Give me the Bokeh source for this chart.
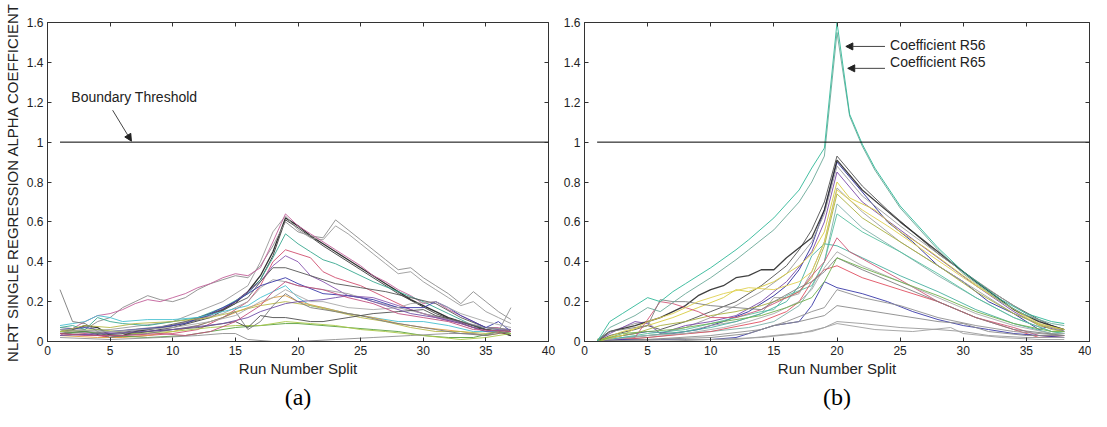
from bokeh.plotting import figure
from bokeh.models import LinearAxis, FixedTicker, Title, Arrow, NormalHead, Range1d
from bokeh.core.properties import value
from bokeh.layouts import row
from bokeh.embed import file_html
from bokeh.resources import INLINE

# ---------------- data ----------------
X_TICKS = [0, 5, 10, 15, 20, 25, 30, 35, 40]
Y_TICKS = [0, 0.2, 0.4, 0.6, 0.8, 1.0, 1.2, 1.4, 1.6]
Y_LABELS = ["0", "0.2", "0.4", "0.6", "0.8", "1", "1.2", "1.4", "1.6"]
THRESHOLD_X = [1, 40]
THRESHOLD_Y = [1.0, 1.0]

# Panel (a) series: (run split, alpha)
A01 = [(1,0.05),(2,0.06),(3,0.08),(4,0.07),(5,0.03),(6,0.03),(7,0.05),(8,0.06),(10,0.08),(12,0.11),(14,0.16),(15,0.2),(16,0.25),(17,0.33),(18,0.45),(19,0.62),(20,0.58),(21,0.53),(22,0.49),(23,0.45),(24,0.41),(25,0.37),(26,0.33),(27,0.29),(28,0.25),(29,0.21),(30,0.18),(31,0.15),(32,0.12),(33,0.1),(34,0.08),(35,0.06),(36,0.05),(37,0.03)]
A02 = [(1,0.04),(3,0.05),(5,0.02),(7,0.04),(10,0.07),(13,0.12),(15,0.19),(17,0.31),(18,0.43),(19,0.61),(20,0.57),(22,0.48),(25,0.36),(28,0.24),(31,0.14),(34,0.07),(36,0.05),(37,0.03)]
A03 = [(1,0.07),(3,0.06),(4,0.1),(5,0.12),(6,0.17),(7,0.2),(8,0.23),(9,0.21),(10,0.2),(11,0.22),(12,0.26),(13,0.29),(14,0.31),(15,0.33),(16,0.32),(17,0.38),(18,0.48),(19,0.6),(20,0.55),(21,0.53),(22,0.52),(23,0.61),(24,0.56),(25,0.51),(26,0.46),(27,0.41),(28,0.36),(29,0.37),(30,0.32),(31,0.28),(32,0.24),(33,0.19),(34,0.25),(35,0.2),(36,0.15),(37,0.11)]
A04 = [(1,0.05),(5,0.06),(10,0.1),(14,0.2),(16,0.28),(17,0.4),(18,0.55),(19,0.63),(20,0.56),(21,0.52),(22,0.51),(23,0.58),(24,0.54),(25,0.49),(26,0.44),(27,0.39),(28,0.34),(29,0.35),(30,0.3),(31,0.26),(32,0.22),(33,0.18),(34,0.2),(35,0.15),(36,0.12),(37,0.09)]
A05 = [(1,0.03),(3,0.1),(4,0.13),(5,0.14),(6,0.16),(7,0.19),(8,0.21),(9,0.2),(10,0.22),(11,0.24),(12,0.27),(13,0.29),(14,0.32),(15,0.34),(16,0.33),(17,0.37),(18,0.5),(19,0.64),(20,0.58),(21,0.54),(22,0.5),(23,0.46),(24,0.42),(25,0.38),(26,0.33),(27,0.3),(28,0.26),(29,0.23),(30,0.19),(31,0.2),(32,0.16),(33,0.13),(34,0.1),(35,0.07),(36,0.07),(37,0.05)]
A06 = [(1,0.07),(2,0.08),(3,0.06),(4,0.12),(5,0.1),(6,0.09),(8,0.08),(10,0.1),(12,0.12),(14,0.17),(16,0.24),(17,0.31),(18,0.42),(19,0.54),(20,0.49),(21,0.45),(22,0.41),(23,0.39),(24,0.36),(26,0.3),(28,0.25),(30,0.2),(32,0.14),(34,0.08),(36,0.06),(37,0.05)]
A07 = [(1,0.03),(3,0.04),(5,0.02),(8,0.03),(10,0.04),(12,0.06),(14,0.12),(16,0.2),(17,0.28),(18,0.4),(19,0.46),(20,0.44),(21,0.42),(22,0.35),(23,0.32),(25,0.28),(27,0.22),(29,0.16),(31,0.12),(33,0.09),(35,0.05),(37,0.04)]
A08 = [(1,0.05),(4,0.04),(7,0.06),(10,0.08),(13,0.13),(15,0.2),(17,0.3),(18,0.38),(19,0.43),(20,0.4),(21,0.33),(22,0.3),(24,0.23),(26,0.22),(28,0.18),(30,0.14),(32,0.11),(35,0.07),(37,0.05)]
A09 = [(1,0.06),(3,0.05),(5,0.04),(8,0.06),(11,0.1),(14,0.16),(16,0.22),(17,0.3),(18,0.37),(19,0.37),(20,0.35),(21,0.33),(22,0.31),(23,0.29),(25,0.27),(27,0.25),(29,0.22),(31,0.19),(33,0.12),(35,0.07),(37,0.06)]
A10 = [(1,0.04),(5,0.05),(10,0.08),(14,0.14),(16,0.2),(17,0.27),(18,0.31),(19,0.3),(20,0.28),(22,0.26),(24,0.24),(26,0.2),(28,0.17),(30,0.14),(33,0.1),(35,0.07),(37,0.06)]
A11 = [(1,0.06),(3,0.07),(5,0.05),(7,0.06),(9,0.07),(11,0.09),(13,0.14),(15,0.2),(16,0.24),(17,0.28),(18,0.3),(19,0.32),(20,0.29),(22,0.24),(24,0.23),(26,0.21),(28,0.17),(30,0.17),(31,0.2),(32,0.17),(33,0.13),(35,0.07),(36,0.1),(37,0.05)]
A12 = [(1,0.08),(2,0.09),(3,0.1),(4,0.13),(5,0.12),(6,0.1),(8,0.11),(10,0.11),(12,0.12),(14,0.15),(16,0.18),(17,0.22),(18,0.25),(19,0.28),(20,0.22),(21,0.18),(22,0.17),(24,0.14),(26,0.12),(28,0.1),(30,0.1),(32,0.08),(34,0.05),(36,0.05),(37,0.04)]
A13 = [(1,0.03),(4,0.02),(6,0.02),(8,0.03),(10,0.05),(12,0.08),(14,0.12),(16,0.17),(17,0.19),(18,0.22),(19,0.23),(20,0.2),(22,0.17),(24,0.14),(26,0.12),(28,0.09),(30,0.07),(33,0.05),(35,0.03),(37,0.05)]
A14 = [(1,0.05),(3,0.08),(5,0.07),(7,0.09),(10,0.1),(13,0.12),(15,0.15),(17,0.18),(19,0.2),(20,0.19),(21,0.18),(23,0.15),(25,0.12),(27,0.1),(29,0.07),(31,0.05),(33,0.05),(35,0.04),(37,0.06)]
A15 = [(1,0.04),(3,0.05),(5,0.03),(8,0.02),(11,0.03),(13,0.05),(15,0.07),(17,0.08),(19,0.09),(20,0.09),(22,0.08),(24,0.07),(26,0.06),(28,0.05),(30,0.03),(32,0.02),(34,0.02),(36,0.05),(37,0.04)]
A16 = [(1,0.05),(4,0.06),(7,0.04),(10,0.05),(13,0.07),(15,0.08),(17,0.08),(19,0.1),(21,0.09),(23,0.08),(25,0.06),(27,0.05),(30,0.03),(33,0.01),(35,0.02),(37,0.04)]
A17 = [(1,0.02),(5,0.01),(9,0.02),(12,0.03),(14,0.04),(15,0.04),(16,0.01),(18,0.0),(20,0.0),(23,0.01),(26,0.02),(29,0.03),(32,0.04),(34,0.04),(35,0.03),(36,0.05),(37,0.17)]
A18 = [(1,0.26),(2,0.1),(3,0.09),(4,0.05),(5,0.02),(6,0.03),(8,0.04),(10,0.06),(12,0.08),(14,0.12),(15,0.15),(16,0.06),(17,0.1),(18,0.18),(19,0.24),(20,0.2),(21,0.17),(23,0.15),(25,0.13),(27,0.1),(29,0.08),(31,0.06),(33,0.04),(35,0.03),(37,0.05)]
A19 = [(1,0.04),(4,0.03),(8,0.05),(12,0.07),(15,0.1),(16,0.07),(17,0.13),(18,0.12),(19,0.12),(20,0.11),(21,0.1),(22,0.1),(24,0.12),(26,0.14),(28,0.15),(30,0.16),(31,0.13),(33,0.1),(35,0.06),(37,0.05)]
A20 = [(1,0.03),(5,0.04),(10,0.06),(14,0.09),(16,0.12),(17,0.15),(18,0.17),(19,0.19),(20,0.2),(22,0.21),(23,0.22),(24,0.23),(25,0.22),(27,0.18),(29,0.14),(31,0.12),(33,0.09),(35,0.05),(37,0.06)]
A21 = [(1,0.06),(5,0.05),(10,0.07),(13,0.1),(15,0.13),(17,0.2),(18,0.22),(19,0.26),(20,0.23),(21,0.2),(22,0.2),(24,0.17),(26,0.16),(28,0.17),(29,0.19),(31,0.2),(33,0.14),(35,0.1),(37,0.07)]
A22 = [(1,0.04),(3,0.03),(6,0.03),(9,0.04),(11,0.03),(13,0.05),(15,0.1),(17,0.18),(18,0.25),(19,0.3),(20,0.28),(22,0.26),(24,0.22),(26,0.19),(28,0.14),(30,0.12),(32,0.1),(34,0.06),(37,0.05)]
A_SERIES = [A01, A02, A03, A04, A05, A06, A07, A08, A09, A10, A11,
            A12, A13, A14, A15, A16, A17, A18, A19, A20, A21, A22]
A_COLORS = ["#1a1a1a", "#3a3a3a", "#8c8c8c", "#9a9a9a", "#c2609a", "#3aa890",
            "#d05070", "#8a58b0", "#555555", "#a0a0a0", "#3a3aa8", "#48c0d0",
            "#e0a040", "#b8b848", "#5aa040", "#a8c848", "#909090", "#7a7a7a",
            "#505050", "#7050a8", "#a8a8a8", "#c05080"]

# Panel (b) series
B01 = [(1,0.0),(2,0.1),(3,0.14),(4,0.18),(5,0.22),(6,0.2),(7,0.25),(8,0.29),(10,0.37),(12,0.46),(13,0.51),(15,0.62),(16,0.69),(17,0.76),(18,0.87),(19,0.97),(20,1.6),(21,1.14),(22,0.99),(23,0.87),(25,0.68),(28,0.47),(30,0.35),(33,0.21),(35,0.14),(36,0.12),(37,0.1),(38,0.09)]
B02 = [(1,0.0),(2,0.07),(3,0.1),(4,0.13),(5,0.17),(6,0.15),(8,0.24),(10,0.32),(12,0.41),(13,0.46),(15,0.56),(16,0.63),(17,0.7),(18,0.8),(19,0.93),(20,1.55),(21,1.13),(22,0.98),(23,0.86),(25,0.67),(28,0.46),(30,0.34),(33,0.2),(35,0.13),(36,0.11),(37,0.09),(38,0.08)]
B03 = [(1,0.0),(2,0.03),(4,0.06),(5,0.08),(6,0.06),(8,0.1),(10,0.15),(12,0.2),(14,0.28),(16,0.38),(17,0.46),(18,0.56),(19,0.7),(20,0.93),(22,0.78),(24,0.66),(26,0.55),(28,0.44),(30,0.35),(32,0.26),(34,0.18),(36,0.11),(37,0.08),(38,0.06)]
B04 = [(1,0.0),(3,0.03),(5,0.05),(7,0.04),(9,0.06),(11,0.1),(13,0.15),(15,0.23),(16,0.28),(17,0.36),(18,0.48),(19,0.66),(20,0.9),(22,0.75),(24,0.6),(26,0.5),(28,0.38),(30,0.3),(32,0.2),(34,0.14),(36,0.06),(37,0.08),(38,0.05)]
B05 = [(1,0.01),(2,0.05),(4,0.09),(5,0.1),(6,0.04),(8,0.07),(10,0.12),(12,0.18),(14,0.25),(16,0.34),(18,0.5),(19,0.64),(20,0.88),(22,0.73),(25,0.58),(28,0.44),(30,0.35),(33,0.22),(35,0.14),(37,0.07),(38,0.06)]
B06 = [(1,0.0),(2,0.04),(4,0.1),(5,0.09),(6,0.04),(8,0.08),(10,0.1),(12,0.13),(14,0.2),(16,0.3),(18,0.45),(19,0.6),(20,0.85),(22,0.7),(25,0.56),(28,0.42),(31,0.28),(34,0.15),(36,0.08),(38,0.05)]
B07 = [(1,0.0),(3,0.05),(5,0.08),(7,0.12),(9,0.17),(11,0.22),(12,0.26),(13,0.25),(15,0.3),(17,0.38),(18,0.44),(19,0.55),(20,0.8),(21,0.72),(23,0.66),(25,0.55),(27,0.47),(30,0.33),(33,0.2),(36,0.08),(38,0.06)]
B08 = [(1,0.0),(5,0.03),(8,0.05),(10,0.08),(12,0.1),(14,0.14),(15,0.22),(16,0.22),(17,0.24),(18,0.35),(19,0.5),(20,0.77),(22,0.65),(25,0.5),(28,0.38),(31,0.26),(34,0.14),(36,0.09),(38,0.05)]
B09 = [(1,0.01),(4,0.04),(6,0.08),(8,0.1),(10,0.13),(12,0.15),(14,0.18),(16,0.22),(17,0.25),(18,0.32),(19,0.48),(20,0.74),(22,0.62),(25,0.5),(28,0.38),(31,0.25),(34,0.14),(37,0.06),(38,0.05)]
B10 = [(1,0.0),(5,0.02),(8,0.04),(10,0.05),(13,0.07),(15,0.1),(17,0.18),(18,0.27),(19,0.4),(20,0.69),(22,0.57),(25,0.45),(28,0.33),(31,0.22),(34,0.12),(37,0.05),(38,0.04)]
B11 = [(1,0.0),(5,0.04),(8,0.06),(10,0.09),(12,0.12),(14,0.15),(15,0.16),(16,0.23),(18,0.28),(19,0.4),(20,0.64),(22,0.55),(25,0.45),(28,0.34),(31,0.22),(34,0.12),(37,0.05),(38,0.04)]
B12 = [(1,0.0),(2,0.05),(4,0.08),(5,0.1),(6,0.12),(8,0.18),(9,0.23),(10,0.26),(11,0.28),(12,0.32),(13,0.33),(14,0.36),(15,0.36),(16,0.42),(17,0.47),(18,0.52),(19,0.66),(20,0.91),(22,0.76),(25,0.6),(28,0.45),(31,0.3),(34,0.16),(36,0.1),(38,0.06)]
B13 = [(1,0.0),(3,0.02),(5,0.03),(8,0.05),(10,0.07),(12,0.1),(14,0.14),(16,0.2),(17,0.28),(18,0.43),(19,0.49),(20,0.48),(22,0.42),(25,0.33),(28,0.25),(31,0.16),(34,0.09),(37,0.04),(38,0.04)]
B14 = [(1,0.0),(4,0.02),(6,0.2),(7,0.19),(9,0.15),(10,0.12),(12,0.12),(14,0.16),(16,0.22),(17,0.25),(18,0.33),(19,0.4),(20,0.52),(21,0.45),(23,0.38),(25,0.31),(28,0.2),(31,0.12),(34,0.07),(36,0.03),(38,0.03)]
B15 = [(1,0.0),(5,0.02),(10,0.05),(14,0.1),(16,0.15),(17,0.2),(18,0.3),(19,0.36),(20,0.38),(22,0.32),(25,0.26),(28,0.2),(31,0.12),(34,0.06),(36,0.02),(38,0.03)]
B16 = [(1,0.0),(5,0.03),(8,0.04),(11,0.07),(13,0.1),(15,0.14),(17,0.2),(18,0.26),(19,0.37),(20,0.45),(22,0.38),(25,0.3),(28,0.22),(31,0.14),(34,0.08),(37,0.04),(38,0.04)]
B17 = [(1,0.0),(3,0.01),(6,0.01),(10,0.01),(12,0.02),(14,0.06),(15,0.08),(16,0.09),(17,0.1),(18,0.18),(19,0.3),(20,0.27),(22,0.24),(24,0.2),(26,0.15),(28,0.11),(30,0.08),(32,0.06),(34,0.04),(36,0.03),(38,0.02)]
B18 = [(1,0.0),(5,0.01),(10,0.03),(14,0.06),(16,0.1),(18,0.15),(19,0.17),(20,0.26),(22,0.22),(25,0.18),(28,0.12),(31,0.08),(34,0.05),(38,0.03)]
B19 = [(1,0.0),(5,0.01),(10,0.02),(13,0.04),(15,0.08),(17,0.1),(19,0.13),(20,0.18),(22,0.16),(25,0.13),(28,0.1),(30,0.09),(32,0.05),(35,0.03),(38,0.03)]
B20 = [(1,0.0),(6,0.0),(10,0.01),(14,0.02),(17,0.04),(19,0.07),(20,0.1),(22,0.09),(25,0.07),(28,0.06),(30,0.05),(32,0.03),(35,0.02),(38,0.02)]
B21 = [(1,0.0),(8,0.01),(12,0.01),(15,0.03),(18,0.05),(20,0.09),(23,0.06),(26,0.05),(29,0.07),(30,0.04),(33,0.02),(36,0.01),(38,0.01)]
B22 = [(1,0.0),(2,0.05),(4,0.07),(5,0.08),(6,0.21),(7,0.2),(8,0.2),(10,0.18),(12,0.17),(14,0.16),(15,0.2),(17,0.27),(18,0.3),(19,0.35),(20,0.42),(22,0.36),(25,0.28),(28,0.2),(31,0.12),(34,0.06),(38,0.03)]
B23 = [(1,0.0),(3,0.03),(5,0.1),(7,0.14),(9,0.2),(11,0.24),(13,0.27),(15,0.26),(17,0.3),(18,0.35),(19,0.5),(20,0.76),(22,0.66),(24,0.58),(27,0.45),(30,0.32),(33,0.2),(36,0.09),(38,0.06)]
B24 = [(1,0.0),(3,0.04),(5,0.05),(7,0.06),(10,0.09),(12,0.11),(14,0.13),(16,0.17),(18,0.22),(19,0.3),(20,0.42),(22,0.37),(25,0.3),(28,0.23),(31,0.15),(34,0.09),(37,0.05),(38,0.05)]
B_SERIES = [B03, B04, B05, B06, B07, B08, B09, B10, B11, B12, B13, B14,
            B15, B16, B17, B18, B19, B20, B21, B22, B23, B24, B02, B01]
B_COLORS = ["#505050", "#2a2a98", "#9a9a9a", "#7a48a8", "#d8cc40", "#a0a0a0",
            "#a8b040", "#80b0a8", "#58c0a0", "#2a2a2a", "#48b0a0", "#d05878",
            "#e05060", "#a8a8a8", "#3838a8", "#909090", "#8a8a8a", "#9a9a9a",
            "#a0a0a0", "#808080", "#e0d050", "#70b050", "#6aa898", "#30b898"]

ANNOT_A = ("Boundary Threshold", 1.9, 1.225)
ARROW_A = (5.2, 1.16, 6.7, 1.005)
ANNOT_B = [("Coefficient R56", 24.2, 1.485), ("Coefficient R65", 24.2, 1.40)]
ARROW_B = [(23.8, 1.48, 20.7, 1.48), (23.8, 1.37, 20.85, 1.37)]

FONT = "Liberation Sans"


def make_panel(series, colors, tag, width, left, right, ylabel):
    p = figure(width=width, height=411, output_backend="svg", toolbar_location=None,
               x_range=Range1d(0, 40), y_range=Range1d(0, 1.6),
               min_border_left=left, min_border_right=right,
               min_border_top=22, min_border_bottom=20, x_axis_type=None,
               y_axis_type=None)
    p.grid.visible = False
    p.outline_line_color = "#333333"
    p.outline_line_width = 1
    p.background_fill_color = "white"
    p.border_fill_color = "white"

    def axis(loc, ticks, labels):
        ax = LinearAxis(ticker=FixedTicker(ticks=ticks))
        ax.major_tick_in = 4
        ax.major_tick_out = 0
        ax.minor_tick_line_color = None
        ax.major_tick_line_color = "#333333"
        ax.axis_line_color = "#333333"
        ax.major_label_text_font = FONT
        ax.major_label_text_font_size = "12px"
        ax.major_label_text_color = "#222222"
        ax.axis_label_text_font = FONT
        ax.axis_label_text_font_style = "normal"
        ax.axis_label_text_font_size = "15px"
        ax.axis_label_text_color = "#222222"
        if labels is None:
            ax.major_label_text_font_size = "0px"
            ax.major_label_standoff = 0
            ax.axis_line_color = None
        else:
            ax.major_label_standoff = 4
            ax.major_label_overrides = labels
        p.add_layout(ax, loc)
        return ax

    xa = axis("below", X_TICKS, {t: str(t) for t in X_TICKS})
    xa.axis_label = "Run Number Split"
    xa.axis_label_standoff = 2
    ya = axis("left", Y_TICKS, dict(zip(Y_TICKS, Y_LABELS)))
    if ylabel:
        ya.axis_label = ylabel
        ya.axis_label_standoff = 3
    axis("right", Y_TICKS, None)
    axis("above", X_TICKS, None)

    p.add_layout(Title(text=tag, align="center", text_font="Liberation Serif",
                       text_font_size="24px", text_font_style="normal",
                       text_color="black", standoff=4), "below")

    for s, c in zip(series, colors):
        xs = [v[0] for v in s]
        ys = [v[1] for v in s]
        lw = 1.3 if c in ("#1a1a1a", "#2a2a2a") else 1.0
        p.line(xs, ys, line_color=c, line_width=lw, line_alpha=0.9)

    p.line(THRESHOLD_X, THRESHOLD_Y, line_color="black", line_width=1)
    return p


pa = make_panel(A_SERIES, A_COLORS, "(a)", 560, 41, 12,
                "NLRT SINGLE REGRESSION ALPHA COEFFICIENT")
pb = make_panel(B_SERIES, B_COLORS, "(b)", 531, 22, 2, None)

txt, tx, ty = ANNOT_A
pa.text(x=[tx], y=[ty], text=[txt], text_font_size="14px", text_baseline="middle",
        text_align="left", text_color="#222222", text_font=value(FONT))
pa.add_layout(Arrow(end=NormalHead(size=7, fill_color="#222222", line_color="#222222"),
                    x_start=ARROW_A[0], y_start=ARROW_A[1], x_end=ARROW_A[2], y_end=ARROW_A[3],
                    line_color="#444444", line_width=1))
for (t, x, y), (x0, y0, x1, y1) in zip(ANNOT_B, ARROW_B):
    pb.text(x=[x], y=[y], text=[t], text_font_size="14px", text_baseline="middle",
            text_align="left", text_color="#222222", text_font=value(FONT))
    pb.add_layout(Arrow(end=NormalHead(size=7, fill_color="#222222", line_color="#222222"),
                        x_start=x0, y_start=y0, x_end=x1, y_end=y1,
                        line_color="#444444", line_width=1))

layout = row(pa, pb)
open("out.html", "w").write(file_html(layout, INLINE))
